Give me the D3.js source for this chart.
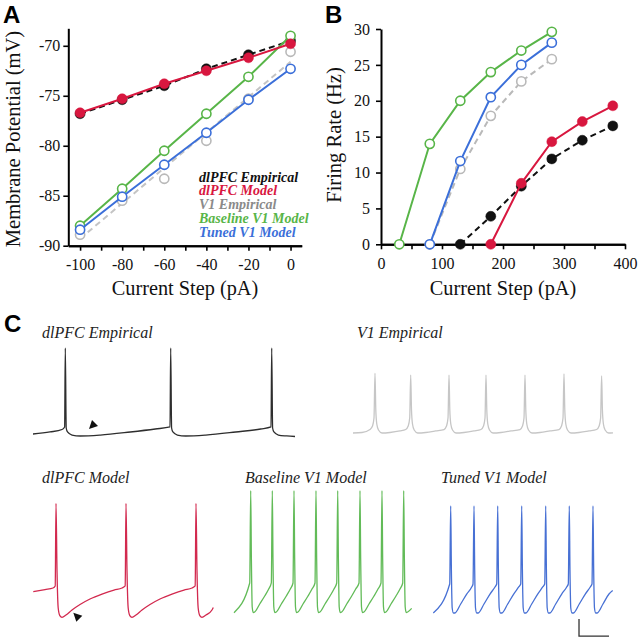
<!DOCTYPE html>
<html><head><meta charset="utf-8">
<script src="https://cdn.jsdelivr.net/npm/d3@7"></script>
<style>
html,body{margin:0;padding:0;background:#fff;}
svg{display:block;}
</style></head><body>
<script>
// ---------- Panel A: subthreshold responses (mV vs pA) ----------
const stepsA = [-100, -80, -60, -40, -20, 0];
const dlpfcEmpiricalA = [-76.8, -75.4, -74.0, -72.3, -70.9, -69.5];
const dlpfcModelA = [-76.7, -75.3, -73.8, -72.5, -71.2, -69.8];
const v1EmpiricalA = [-88.9, -85.5, -83.3, -79.5, -75.3, -70.6];
const v1EmpiricalFitStepsA = [-100, 0];
const v1EmpiricalFitA = [-89.3, -71.6];
const baselineV1A = [-88.0, -84.3, -80.5, -76.8, -73.1, -69.0];
const tunedV1A = [-88.4, -85.1, -81.9, -78.7, -75.4, -72.3];
const xTickValuesA = [-100, -80, -60, -40, -20, 0];
const xTickLabelsA = ["-100", "-80", "-60", "-40", "-20", "0"];
const xMinorTicksA = [-90, -70, -50, -30, -10];
const yTickValuesA = [-90, -85, -80, -75, -70];
const yTickLabelsA = ["-90", "-85", "-80", "-75", "-70"];
const legendLabelsA = ["dlPFC Empirical", "dlPFC Model", "V1 Empirical", "Baseline V1 Model", "Tuned V1 Model"];

// ---------- Panel B: firing rate (Hz) vs current step (pA) ----------
const baselineV1StepsB = [30, 80, 130, 180, 230, 280];
const baselineV1RateB = [0, 14.0, 20.0, 24.0, 27.0, 29.6];
const tunedV1StepsB = [80, 130, 180, 230, 280];
const tunedV1RateB = [0, 11.6, 20.5, 25.0, 28.1];
const v1EmpiricalStepsB = [80, 130, 180, 230, 280];
const v1EmpiricalRateB = [0, 10.5, 17.9, 22.7, 25.8];
const dlpfcEmpiricalStepsB = [130, 180, 230, 280, 330, 380];
const dlpfcEmpiricalRateB = [0, 3.9, 8.1, 11.9, 14.5, 16.5];
const dlpfcModelStepsB = [180, 230, 280, 330, 380];
const dlpfcModelRateB = [0, 8.5, 14.3, 17.1, 19.3];
const xTickValuesB = [0, 100, 200, 300, 400];
const xMinorTicksB = [50, 150, 250, 350];
const yTickValuesB = [0, 5, 10, 15, 20, 25, 30];

// ---------- Panel C: voltage traces (time ms, membrane potential mV) ----------
// dlPFC Empirical
const dlpfcEmpStart = [[0, -71.2], [56.7, -68.8], [96.7, -65.9]];
const dlpfcEmpSpikes = [107.7, 459, 795.7];
const dlpfcEmpPeaks = [30, 30, 30];
const dlpfcEmpPre = [[-2.3, -62.9]];
const dlpfcEmpPost = [[3, -64.1], [7.3, -68.8], [22.3, -72.4], [50, -73.5], [116.7, -72.4], [216.7, -68.8], [300, -65.3]];
const dlpfcEmpEnd = [873.3, -74.1];
const dlpfcEmpArrow = [200, -60.6];
// V1 Empirical
const v1EmpStart = [[0, -70], [30, -69.4]];
const v1EmpSpikes = [73.3, 192.3, 320, 443.3, 573.3, 703.3, 828.7];
const v1EmpPeaks = [0.2, -1.8, -1.8, -1.8, -1.8, -0.6, -2.9];
const v1EmpPre = [[-16.7, -65.9], [-8.3, -61.8], [-3.3, -52.4]];
const v1EmpPost = [[2.7, -42.9], [6, -59.4], [11.7, -66.5], [23.3, -70], [50, -69.4], [83.3, -67.6]];
const v1EmpEnd = [866.7, -69.8];
// dlPFC Model
const dlpfcModStart = [[0, -74.4], [39, -71.8], [65.7, -70]];
const dlpfcModSpikes = [75.7, 309, 542.3];
const dlpfcModPeaks = [29.6, 29.6, 29.6];
const dlpfcModPre = [[-2.7, -67.6]];
const dlpfcModPost = [[3.3, -48.8], [7.3, -93.5], [12.7, -102.4], [20, -104.5], [33.3, -101.8], [53.3, -95.9], [80, -89.4], [113.3, -82.9], [153.3, -77.1], [193.3, -72.4], [220, -70]];
const dlpfcModEnd = [600, -93];
const dlpfcModArrow = [146.7, -103.8];
// Baseline V1 Model
const baseV1Start = [[0, -99.1]];
const baseV1Spikes = [55.7, 127.7, 200, 273.3, 345.7, 420, 493.3, 565.7];
const baseV1Peaks = [44.5, 44.5, 44.5, 44.5, 44.5, 44.5, 44.5, 44.5];
const baseV1Pre = [[-3.3, -64.1]];
const baseV1Post = [[2.3, -37.1], [5, -92.4], [8.3, -98.8], [13.3, -98.2], [30, -88.8], [46.7, -79.4], [60, -71.2]];
const baseV1End = [592.3, -94];
// Tuned V1 Model
const tunedV1Start = [[0, -99.4]];
const tunedV1Spikes = [58, 135.7, 214.7, 294.7, 374.7, 453.3, 532.3];
const tunedV1Peaks = [26.5, 26.5, 26.5, 26.5, 26.5, 26.5, 26.5];
const tunedV1Pre = [[-3.3, -65.3]];
const tunedV1Post = [[2.3, -48.8], [5, -93.5], [9, -99.4], [14, -99.4], [33.3, -88.8], [53.3, -77.1], [70, -68.8]];
const tunedV1End = [598, -73];
// scale bar: 100 ms, 20 mV (anchored in Tuned V1 panel coordinates)
const scaleBarOrigin = [485.7, -126.5];
const scaleBarMs = 100;
const scaleBarMv = 20;

// ================= drawing =================
const SERIF = '"Liberation Serif","Times New Roman",Times,serif';
const SANS = '"Liberation Sans",Arial,Helvetica,sans-serif';
const C_BLACK = "#111111", C_RED = "#d8173f", C_GREY = "#b9b9b9", C_GREEN = "#58b548", C_BLUE = "#3b6fd9";

const svg = d3.select("body").append("svg").attr("width", 638).attr("height", 639);
svg.append("rect").attr("width", 638).attr("height", 639).attr("fill", "#fff");

function styleAxis(g, fs) {
  g.attr("font-family", null).attr("font-size", null);
  g.select(".domain").attr("stroke", "#000").attr("stroke-width", 2);
  g.selectAll(".tick line").attr("stroke", "#000").attr("stroke-width", 1.6);
  g.selectAll(".tick text").attr("font-family", SERIF).attr("font-size", fs).attr("fill", "#111");
}

function drawSeries(g, xs, ys, xScale, yScale, color, opts) {
  const pts = xs.map((x, i) => [xScale(x), yScale(ys[i])]);
  if (!opts.noLine) {
    g.append("path").attr("d", d3.line()(pts)).attr("fill", "none")
      .attr("stroke", color).attr("stroke-width", 2)
      .attr("stroke-dasharray", opts.dashed ? "6,4" : null);
  }
  g.selectAll(null).data(pts).enter().append("circle")
    .attr("cx", d => d[0]).attr("cy", d => d[1])
    .attr("r", opts.open ? 4.6 : 5)
    .attr("fill", opts.open ? "#fff" : color)
    .attr("stroke", color).attr("stroke-width", opts.open ? 1.6 : 0.5);
}

// ---------- Panel A ----------
const xA = d3.scaleLinear().domain([-105.6, 5.3]).range([68.3, 301.7]);
const yA = d3.scaleLinear().domain([-90, -68.25]).range([245.7, 28.3]);
const gA = svg.append("g");
gA.append("g").attr("transform", `translate(0,${yA(-90)})`)
  .call(d3.axisBottom(xA).tickValues(xMinorTicksA).tickSize(5).tickSizeOuter(0).tickFormat(""))
  .call(g => styleAxis(g, 16));
gA.append("g").attr("transform", `translate(0,${yA(-90)})`)
  .call(d3.axisBottom(xA).tickValues(xTickValuesA).tickSize(5).tickSizeOuter(0).tickPadding(8)
    .tickFormat((d, i) => xTickLabelsA[i]))
  .call(g => styleAxis(g, 16));
gA.append("g").attr("transform", `translate(${xA(-105.6)},0)`)
  .call(d3.axisLeft(yA).tickValues(yTickValuesA).tickSize(5).tickSizeOuter(0).tickPadding(3)
    .tickFormat((d, i) => yTickLabelsA[i]))
  .call(g => styleAxis(g, 16));

const gAd = gA.append("g");
gAd.append("path").attr("d", d3.line()(v1EmpiricalFitStepsA.map((x, i) => [xA(x), yA(v1EmpiricalFitA[i])])))
  .attr("fill", "none").attr("stroke", "#c4c4c4").attr("stroke-width", 2).attr("stroke-dasharray", "6,4");
drawSeries(gAd, stepsA, v1EmpiricalA, xA, yA, C_GREY, {open: true, noLine: true});
drawSeries(gAd, stepsA, dlpfcEmpiricalA, xA, yA, C_BLACK, {dashed: true});
drawSeries(gAd, stepsA, baselineV1A, xA, yA, C_GREEN, {open: true});
drawSeries(gAd, stepsA, tunedV1A, xA, yA, C_BLUE, {open: true});
drawSeries(gAd, stepsA, dlpfcModelA, xA, yA, C_RED, {});

const legendColors = [C_BLACK, C_RED, "#8a8a8a", C_GREEN, C_BLUE];
gA.append("g").selectAll("text").data(legendLabelsA).enter().append("text")
  .attr("x", 199).attr("y", (d, i) => 181.5 + i * 13.8)
  .attr("font-family", SERIF).attr("font-size", 14).attr("font-weight", "bold").attr("font-style", "italic")
  .attr("fill", (d, i) => legendColors[i]).text(d => d);

gA.append("text").attr("x", 185).attr("y", 295).attr("text-anchor", "middle")
  .attr("font-family", SERIF).attr("font-size", 20.3).attr("fill", "#111").text("Current Step (pA)");
gA.append("text").attr("transform", "translate(20,139) rotate(-90)").attr("text-anchor", "middle")
  .attr("font-family", SERIF).attr("font-size", 20.5).attr("fill", "#111").text("Membrane Potential (mV)");
svg.append("text").attr("x", 3).attr("y", 23).attr("font-family", SANS).attr("font-weight", "bold")
  .attr("font-size", 24).attr("fill", "#000").text("A");

// ---------- Panel B ----------
const xB = d3.scaleLinear().domain([0, 400]).range([381, 625]);
const yB = d3.scaleLinear().domain([0, 30]).range([244.3, 29]);
const gB = svg.append("g");
gB.append("g").attr("transform", `translate(0,${yB(0)})`)
  .call(d3.axisBottom(xB).tickValues(xMinorTicksB).tickSize(5).tickSizeOuter(0).tickFormat(""))
  .call(g => styleAxis(g, 16));
gB.append("g").attr("transform", `translate(0,${yB(0)})`)
  .call(d3.axisBottom(xB).tickValues(xTickValuesB).tickSize(5).tickSizeOuter(0).tickPadding(8).tickFormat(d => String(d)))
  .call(g => styleAxis(g, 16));
gB.append("g").attr("transform", `translate(${xB(0)},0)`)
  .call(d3.axisLeft(yB).tickValues(yTickValuesB).tickSize(5).tickSizeOuter(0).tickPadding(6).tickFormat(d => String(d)))
  .call(g => styleAxis(g, 16));

const gBd = gB.append("g");
drawSeries(gBd, v1EmpiricalStepsB, v1EmpiricalRateB, xB, yB, C_GREY, {open: true, dashed: true});
drawSeries(gBd, dlpfcEmpiricalStepsB, dlpfcEmpiricalRateB, xB, yB, C_BLACK, {dashed: true});
drawSeries(gBd, baselineV1StepsB, baselineV1RateB, xB, yB, C_GREEN, {open: true});
drawSeries(gBd, tunedV1StepsB, tunedV1RateB, xB, yB, C_BLUE, {open: true});
drawSeries(gBd, dlpfcModelStepsB, dlpfcModelRateB, xB, yB, C_RED, {});

gB.append("text").attr("x", 503).attr("y", 295).attr("text-anchor", "middle")
  .attr("font-family", SERIF).attr("font-size", 20.3).attr("fill", "#111").text("Current Step (pA)");
gB.append("text").attr("transform", "translate(341,135) rotate(-90)").attr("text-anchor", "middle")
  .attr("font-family", SERIF).attr("font-size", 20.5).attr("fill", "#111").text("Firing Rate (Hz)");
svg.append("text").attr("x", 325).attr("y", 23).attr("font-family", SANS).attr("font-weight", "bold")
  .attr("font-size", 24).attr("fill", "#000").text("B");

// ---------- Panel C ----------
svg.append("text").attr("x", 4).attr("y", 332).attr("font-family", SANS).attr("font-weight", "bold")
  .attr("font-size", 24).attr("fill", "#000").text("C");

function buildTrace(start, spikes, peaks, pre, post, end) {
  const pts = start.slice();
  spikes.forEach((s, i) => {
    pre.forEach(([dt, v]) => pts.push([s + dt, v]));
    pts.push([s, peaks[i]]);
    const limit = i < spikes.length - 1 ? spikes[i + 1] + pre[0][0] : end[0];
    post.forEach(([dt, v]) => { if (s + dt < limit) pts.push([s + dt, v]); });
  });
  pts.push(end);
  return pts;
}

const PX_PER_MS = 0.3, PX_PER_MV = 0.85;
const rowZero = [373.5, 528.5];
function traceScales(x0, row) {
  return {
    x: d3.scaleLinear().domain([0, 100]).range([x0, x0 + 100 * PX_PER_MS]),
    y: d3.scaleLinear().domain([0, 100]).range([rowZero[row], rowZero[row] - 100 * PX_PER_MV])
  };
}

const tracePanels = [
  {title: "dlPFC Empirical", tx: 42, ty: 337.5, x0: 33, row: 0, color: "#2e2e2e",
   pts: buildTrace(dlpfcEmpStart, dlpfcEmpSpikes, dlpfcEmpPeaks, dlpfcEmpPre, dlpfcEmpPost, dlpfcEmpEnd), arrow: dlpfcEmpArrow, arrowDir: "down"},
  {title: "V1 Empirical", tx: 357, ty: 337.5, x0: 353, row: 0, color: "#c6c6c6",
   pts: buildTrace(v1EmpStart, v1EmpSpikes, v1EmpPeaks, v1EmpPre, v1EmpPost, v1EmpEnd)},
  {title: "dlPFC Model", tx: 42, ty: 483, x0: 33.3, row: 1, color: "#d2294e",
   pts: buildTrace(dlpfcModStart, dlpfcModSpikes, dlpfcModPeaks, dlpfcModPre, dlpfcModPost, dlpfcModEnd), arrow: dlpfcModArrow, arrowDir: "up"},
  {title: "Baseline V1 Model", tx: 245, ty: 483, x0: 234, row: 1, color: "#62bb58",
   pts: buildTrace(baseV1Start, baseV1Spikes, baseV1Peaks, baseV1Pre, baseV1Post, baseV1End)},
  {title: "Tuned V1 Model", tx: 441, ty: 483, x0: 433.3, row: 1, color: "#4770d4",
   pts: buildTrace(tunedV1Start, tunedV1Spikes, tunedV1Peaks, tunedV1Pre, tunedV1Post, tunedV1End), scaleBar: true}
];

const gC = svg.append("g");
tracePanels.forEach(p => {
  const s = traceScales(p.x0, p.row);
  gC.append("text").attr("x", p.tx).attr("y", p.ty).attr("font-family", SERIF).attr("font-style", "italic")
    .attr("font-size", 16).attr("fill", "#222").text(p.title);
  gC.append("path").attr("d", d3.line().x(d => s.x(d[0])).y(d => s.y(d[1])).curve(d3.curveMonotoneX)(p.pts))
    .attr("fill", "none").attr("stroke", p.color).attr("stroke-width", 1.3).attr("stroke-linejoin", "round");
  if (p.arrow) {
    const ax = s.x(p.arrow[0]), ay = s.y(p.arrow[1]);
    const path = p.arrowDir === "up" ? "M-4,-4 L5,-1 L-1,5 Z" : "M-4,4 L5,1 L-1,-5 Z";
    gC.append("path").attr("d", path).attr("transform", `translate(${ax},${ay})`).attr("fill", "#111");
  }
  if (p.scaleBar) {
    const ox = s.x(scaleBarOrigin[0]), oy = s.y(scaleBarOrigin[1]);
    const bx = s.x(scaleBarOrigin[0] + scaleBarMs), by = s.y(scaleBarOrigin[1] + scaleBarMv);
    gC.append("path").attr("d", `M${ox},${by} L${ox},${oy} L${bx},${oy}`)
      .attr("fill", "none").attr("stroke", "#333").attr("stroke-width", 1.3);
  }
});
</script>
</body></html>
